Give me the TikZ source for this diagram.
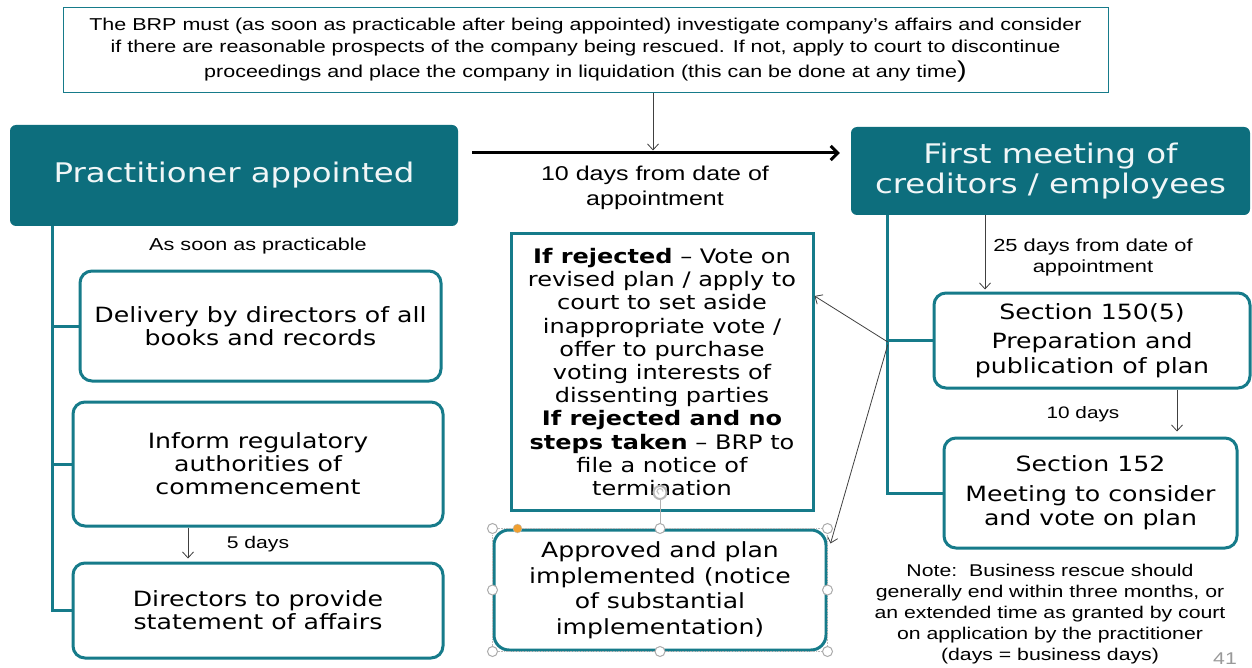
\documentclass[tikz,border=0pt]{standalone}
\usepackage{fontspec}
\setmainfont{Liberation Sans}[FakeStretch=1.25]
\newfontfamily\verd{DejaVu Sans}[FakeStretch=1.2]
\usetikzlibrary{arrows.meta}
\definecolor{tealfill}{HTML}{0D6E7D}
\definecolor{tealline}{HTML}{167B8A}
\definecolor{handleorange}{HTML}{F0A030}
\begin{document}
\begin{tikzpicture}[x=1pt,y=-1pt,
  stepbox/.style={draw=tealline, line width=3pt, rounded corners=12pt, fill=white,
    align=center, inner sep=0pt, font=\verd\fontsize{21}{23}\selectfont},
  headbox/.style={fill=tealfill, rounded corners=6pt, text=white!94!tealfill,
    align=center, inner sep=0pt, font=\verd\fontsize{27}{30}\selectfont},
  lbl/.style={align=center, inner sep=0pt, font=\fontsize{17.3}{21}\selectfont},
  trunk/.style={draw=tealline, line width=3pt},
  thinarrow/.style={draw=black!75, line width=0.8pt, -{Straight Barb[length=6pt,width=11pt]}},
  mainarrow/.style={draw=black, line width=3pt, -{Straight Barb[length=7pt,width=14pt]}},
  handle/.style={circle, draw=gray!65, fill=white, line width=1pt, minimum size=10pt, inner sep=0pt}]
\useasboundingbox (0,0) rectangle (1252,668);
\fill[white] (0,0) rectangle (1252,668);

% top note box
\node[draw=tealline, line width=1pt, minimum width=1045pt, minimum height=85pt,
  align=center, inner sep=0pt, font=\fontsize{17.2}{22}\selectfont] (top) at (585.5,50.5)
  {The BRP must (as soon as practicable after being appointed) investigate company’s affairs and consider\\
   if there are reasonable prospects of the company being rescued. If not, apply to court to discontinue\\[3pt]
   proceedings and place the company in liquidation (this can be done at any time{\fontsize{23}{23}\selectfont)}};

% header boxes
\node[headbox, minimum width=448pt, minimum height=101pt] (pa) at (234,175.5) {Practitioner appointed};
\node[headbox, minimum width=399pt, minimum height=88pt] (fm) at (1050.5,171) {First meeting of\\creditors / employees};

% main timeline arrow
\draw[mainarrow] ([shift={(14pt,22.5pt)}]pa.east) -- ([shift={(-11pt,18pt)}]fm.west);
\coordinate (tp) at ([xshift=67.5pt]top.south);
\draw[thinarrow] (tp) -- ([yshift=-57pt]tp);
\node[lbl, font=\fontsize{20}{25}\selectfont] (tenfrom) at (655,188) {10 days from date of\\appointment};

% left column
\node[stepbox, minimum width=361pt, minimum height=110pt] (b1) at (260.5,326) {Delivery by directors of all\\books and records};
\node[stepbox, minimum width=370pt, minimum height=124pt] (b2) at (258,464) {Inform regulatory\\authorities of\\commencement};
\node[stepbox, minimum width=370pt, minimum height=95pt] (b3) at (258,610.5) {Directors to provide\\statement of affairs};
\node[lbl] (asap) at (258,246) {As soon as practicable};
\node[lbl, font=\fontsize{16.9}{21}\selectfont] (five) at (258,544) {5 days};

\coordinate (lt) at ([xshift=43pt]pa.south west);
\draw[trunk] (lt) |- (b3.west);
\draw[trunk] (lt |- b1.west) -- (b1.west);
\draw[trunk] (lt |- b2.west) -- (b2.west);
\coordinate (b2b3) at ([xshift=-70pt]b2.south);
\draw[thinarrow, shorten >=3pt] (b2b3) -- (b2b3 |- b3.north);

% right column
\node[stepbox, minimum width=316pt, minimum height=95pt, font=\verd\fontsize{21}{24.5}\selectfont] (s150) at (1092,340.5)
  {Section 150(5)\\[5pt]Preparation and\\publication of plan};
\node[stepbox, minimum width=293pt, minimum height=110pt, font=\verd\fontsize{21}{24.5}\selectfont] (s152) at (1090.5,493)
  {Section 152\\[5pt]Meeting to consider\\and vote on plan};
\node[lbl, font=\fontsize{17.5}{21}\selectfont] (twentyfive) at (1093,257) {25 days from date of\\appointment};
\node[lbl, font=\fontsize{16.6}{21}\selectfont] (ten) at (1083,414) {10 days};

\coordinate (rt) at ([xshift=37pt]fm.south west);
\draw[trunk] (rt) |- (s152.west);
\draw[trunk] (rt |- s150.west) -- (s150.west);
\coordinate (fms) at ([xshift=-65.5pt]fm.south);
\draw[thinarrow, shorten >=2pt] (fms) -- (fms |- s150.north);
\coordinate (s150s) at ([xshift=85pt]s150.south);
\draw[thinarrow, shorten >=5pt] (s150s) -- (s150s |- s152.north);

% middle outcomes
\node[draw=tealline, line width=3pt, fill=white, minimum width=302pt, minimum height=276pt,
  align=center, inner sep=0pt, font=\verd\fontsize{20}{23.2}\selectfont] (rej) at (662,372)
  {\textbf{If rejected} – Vote on\\
   revised plan / apply to\\
   court to set aside\\
   inappropriate vote /\\
   offer to purchase\\
   voting interests of\\
   dissenting parties\\
   \textbf{If rejected and no}\\
   \textbf{steps taken} – BRP to\\
   file a notice of\\
   termination};
\node[stepbox, rounded corners=15pt, minimum width=332pt, minimum height=120pt,
  font=\verd\fontsize{20.9}{25.5}\selectfont] (ap) at (660,590)
  {Approved and plan\\implemented (notice\\of substantial\\implementation)};

\coordinate (jn) at (rt |- s150.west);
\draw[thinarrow] ([yshift=-1.5pt]jn) -- ([yshift=76pt]rej.east);
\draw[thinarrow] ([yshift=-4pt]jn) -- ([shift={(3pt,-15pt)}]ap.north east);

% selection frame and handles on the approved box
\draw[gray!55, densely dotted, line width=0.6pt] (ap.north west) rectangle (ap.south east);
\draw[gray!60, line width=1pt] (ap.north) -- ([yshift=30pt]ap.north);
\node[circle, draw=gray!55, line width=2pt, minimum size=13pt, inner sep=0pt, fill=white] (rot) at ([yshift=36pt]ap.north) {};
\draw[gray!45, line width=1.2pt] ([shift={(3pt,1pt)}]rot.center) arc (0:250:3pt);
\foreach \a in {north west,north,north east,west,east,south west,south,south east}
  \node[handle] at (ap.\a) {};
\node[circle, fill=handleorange, draw=gray!50, minimum size=9pt, inner sep=0pt] (adj) at ([xshift=25pt]ap.north west) {};

% footnote
\node[lbl, font=\fontsize{17}{21}\selectfont] (note) at (1050,614)
  {Note:\ \ Business rescue should\\
   generally end within three months, or\\
   an extended time as granted by court\\
   on application by the practitioner\\
   (days = business days)};
\node[lbl, text=gray!80, font=\fontsize{17}{20}\selectfont] (pg) at (1225,659) {41};
\end{tikzpicture}
\end{document}
